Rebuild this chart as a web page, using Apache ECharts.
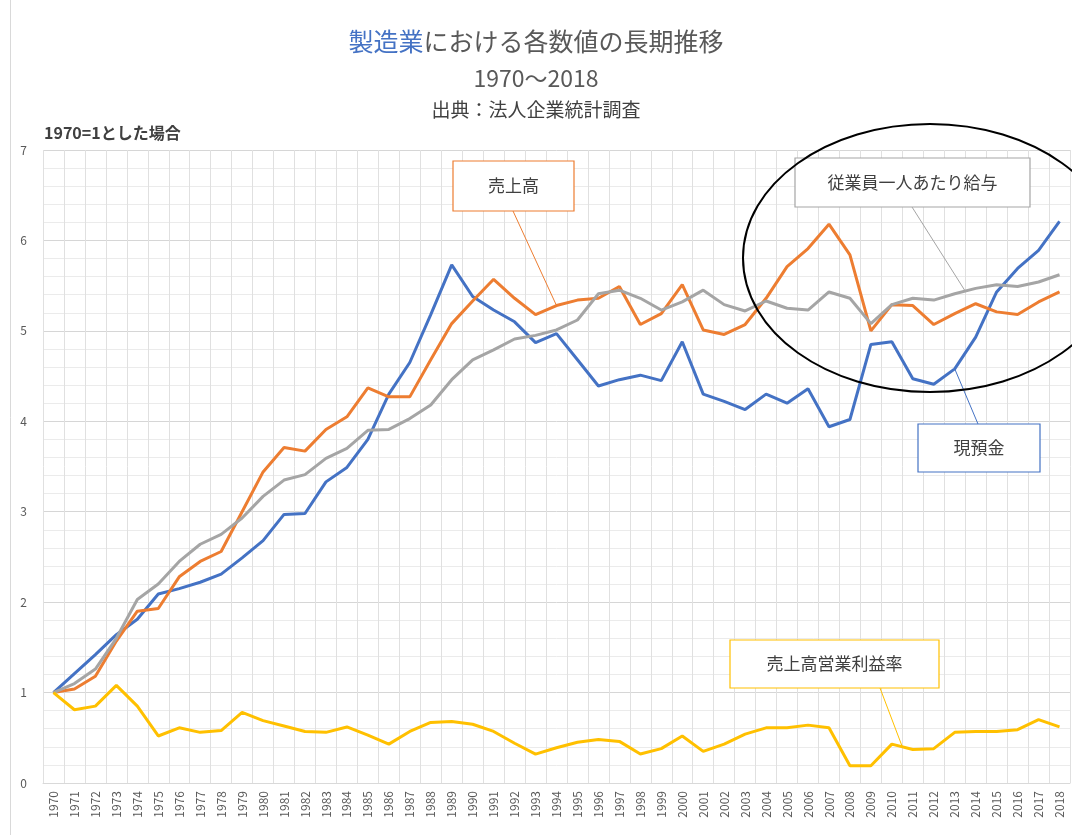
<!DOCTYPE html>
<html><head><meta charset="utf-8">
<script src="https://cdn.jsdelivr.net/npm/echarts@6/dist/echarts.min.js"></script>
<style>html,body{margin:0;padding:0;background:#fff}#c{width:1072px;height:835px}</style>
</head><body><div id="c"></div>
<script>
const years = ['1970','1971','1972','1973','1974','1975','1976','1977','1978','1979','1980','1981','1982','1983','1984','1985','1986','1987','1988','1989','1990','1991','1992','1993','1994','1995','1996','1997','1998','1999','2000','2001','2002','2003','2004','2005','2006','2007','2008','2009','2010','2011','2012','2013','2014','2015','2016','2017','2018'];
// 現預金
const cash = [1.00,1.21,1.42,1.64,1.81,2.09,2.15,2.22,2.31,2.49,2.68,2.97,2.98,3.33,3.49,3.80,4.30,4.65,5.18,5.73,5.38,5.23,5.10,4.87,4.97,4.68,4.39,4.46,4.51,4.45,4.88,4.30,4.22,4.13,4.30,4.20,4.36,3.94,4.02,4.85,4.88,4.47,4.41,4.58,4.93,5.43,5.69,5.89,6.21];
// 売上高
const sales = [1.00,1.04,1.18,1.57,1.90,1.93,2.28,2.45,2.56,3.00,3.44,3.71,3.67,3.91,4.05,4.37,4.27,4.27,4.68,5.08,5.33,5.57,5.36,5.18,5.28,5.34,5.36,5.49,5.07,5.19,5.51,5.01,4.96,5.07,5.36,5.71,5.91,6.18,5.84,5.00,5.29,5.28,5.07,5.19,5.30,5.21,5.18,5.32,5.43];
// 従業員一人あたり給与
const wage = [1.00,1.10,1.26,1.60,2.03,2.20,2.45,2.64,2.75,2.93,3.17,3.35,3.41,3.59,3.70,3.90,3.91,4.03,4.18,4.46,4.68,4.79,4.91,4.95,5.01,5.12,5.41,5.45,5.36,5.23,5.32,5.45,5.29,5.22,5.33,5.25,5.23,5.43,5.36,5.08,5.29,5.36,5.34,5.41,5.47,5.51,5.49,5.54,5.62];
// 売上高営業利益率
const margin = [1.00,0.81,0.85,1.08,0.85,0.52,0.61,0.56,0.58,0.78,0.69,0.63,0.57,0.56,0.62,0.53,0.43,0.57,0.67,0.68,0.65,0.57,0.44,0.32,0.39,0.45,0.48,0.46,0.32,0.38,0.52,0.35,0.43,0.54,0.61,0.61,0.64,0.61,0.19,0.19,0.43,0.37,0.38,0.56,0.57,0.57,0.59,0.70,0.62];

const FONT = '"Noto Sans CJK JP", "Noto Sans", sans-serif';
const C_BLUE = '#4472C4', C_ORANGE = '#ED7D31', C_GRAY = '#A5A5A5', C_YELLOW = '#FFC000';

const chart = echarts.init(document.getElementById('c'), null, {renderer: 'canvas'});

function lineSeries(name, data, color) {
  return {
    name: name, type: 'line', data: data, symbol: 'none', smooth: false,
    lineStyle: {color: color, width: 3}, itemStyle: {color: color},
    emphasis: {disabled: true}, animation: false
  };
}

chart.setOption({
  backgroundColor: '#fff',
  animation: false,
  textStyle: {fontFamily: FONT},
  title: [
    {text: '{b|製造業}{n|における各数値の長期推移}', left: 'center', top: 26, padding: 0,
     textStyle: {fontWeight: 'normal', rich: {
       b: {color: C_BLUE, fontSize: 25, fontWeight: 'normal', fontFamily: FONT, lineHeight: 30},
       n: {color: '#595959', fontSize: 25, fontWeight: 'normal', fontFamily: FONT, lineHeight: 30}
     }}},
    {text: '1970～2018', left: 'center', top: 64, padding: 0,
     textStyle: {color: '#595959', fontSize: 23, fontWeight: 'normal', fontFamily: FONT, lineHeight: 28}},
    {text: '出典：法人企業統計調査', left: 'center', top: 98, padding: 0,
     textStyle: {color: '#404040', fontSize: 19, fontWeight: 'normal', fontFamily: FONT, lineHeight: 24}},
    {text: '1970=1とした場合', left: 44, top: 123, padding: 0,
     textStyle: {color: '#404040', fontSize: 16, fontWeight: 'bold', fontFamily: FONT, lineHeight: 20}}
  ],
  grid: {left: 43, right: 2, top: 150, bottom: 52, containLabel: false},
  xAxis: {
    type: 'category', data: years, boundaryGap: true,
    axisLine: {show: true, lineStyle: {color: '#d9d9d9', width: 1}},
    axisTick: {show: false},
    axisLabel: {interval: 0, rotate: 90, color: '#595959', fontSize: 12, margin: 8, fontFamily: FONT},
    splitLine: {show: true, interval: 0, lineStyle: {color: '#e0e0e0', width: 1}}
  },
  yAxis: {
    type: 'value', min: 0, max: 7, interval: 1,
    axisLine: {show: false}, axisTick: {show: false},
    axisLabel: {color: '#595959', fontSize: 12, margin: 16, fontFamily: FONT},
    splitLine: {show: true, lineStyle: {color: '#d6d6d6', width: 1}},
    minorTick: {show: false, splitNumber: 5},
    minorSplitLine: {show: true, lineStyle: {color: '#ebebeb', width: 1}}
  },
  series: [
    lineSeries('現預金', cash, C_BLUE),
    lineSeries('売上高', sales, C_ORANGE),
    lineSeries('従業員一人あたり給与', wage, C_GRAY),
    lineSeries('売上高営業利益率', margin, C_YELLOW)
  ]
});

function px(idx, val) { return chart.convertToPixel({xAxisIndex: 0, yAxisIndex: 0}, [idx, val]); }
function mid(a, b) { return [(a[0] + b[0]) / 2, (a[1] + b[1]) / 2]; }

const iy = y => years.indexOf(y);
const pSales = px(iy('1994'), sales[iy('1994')]);
const pWage = mid(px(iy('2013'), wage[iy('2013')]), px(iy('2014'), wage[iy('2014')]));
const pCash = px(iy('2013'), cash[iy('2013')]);
const pMargin = mid(px(iy('2010'), margin[iy('2010')]), px(iy('2011'), margin[iy('2011')]));

function box(x, y, w, h, color, text, fs) {
  return [
    {type: 'rect', z: 20, shape: {x: x, y: y, width: w, height: h},
     style: {fill: '#fff', stroke: color, lineWidth: 1.2}},
    {type: 'text', z: 21, x: x + w / 2, y: y + h / 2,
     style: {text: text, fill: '#404040', font: fs + 'px ' + FONT, textAlign: 'center', textVerticalAlign: 'middle'}}
  ];
}
function leader(x1, y1, p, color) {
  return {type: 'line', z: 15, shape: {x1: x1, y1: y1, x2: p[0], y2: p[1]},
          style: {stroke: color, lineWidth: 1}};
}

const g = [
  {type: 'line', z: 1, shape: {x1: 10.5, y1: 0, x2: 10.5, y2: 835}, style: {stroke: '#d9d9d9', lineWidth: 1}},
  leader(513, 211, pSales, C_ORANGE),
  leader(912, 207, pWage, C_GRAY),
  leader(978, 424, pCash, C_BLUE),
  leader(880, 688, pMargin, C_YELLOW)
].concat(
  box(453, 161, 121, 50, C_ORANGE, '売上高', 17),
  box(795, 158, 235, 49, C_GRAY, '従業員一人あたり給与', 17),
  box(918, 424, 122, 48, C_BLUE, '現預金', 17),
  box(730, 640, 209, 48, C_YELLOW, '売上高営業利益率', 17),
  [{type: 'ellipse', z: 30, shape: {cx: 930, cy: 258, rx: 187, ry: 134},
    style: {fill: 'none', stroke: '#000', lineWidth: 2}}]
);

chart.setOption({graphic: g});
</script>
</body></html>
